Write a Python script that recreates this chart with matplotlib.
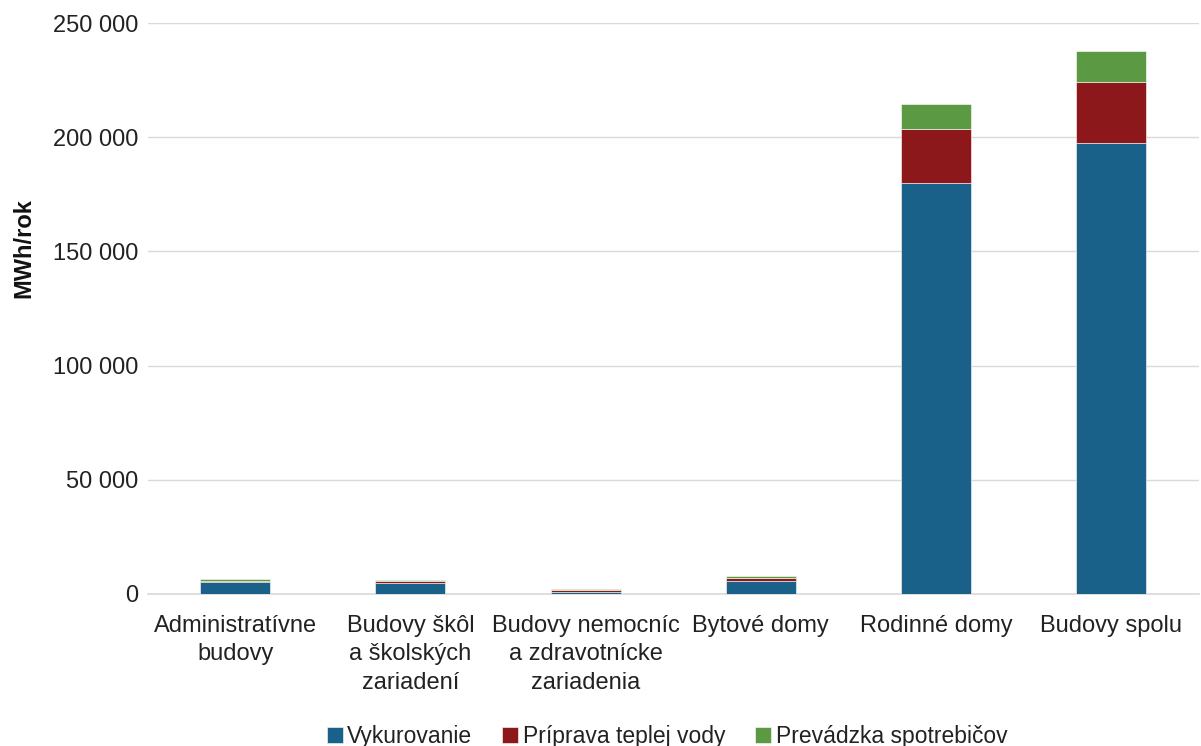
import numpy as np
import matplotlib.pyplot as plt
from matplotlib.ticker import FuncFormatter

categories = ['Administratívne\nbudovy', 'Budovy škôl\na školských\nzariadení',
              'Budovy nemocníc\na zdravotnícke\nzariadenia', 'Bytové domy',
              'Rodinné domy', 'Budovy spolu']
vykurovanie = [5000, 4900, 1000, 5500, 180000, 197500]
priprava_vody = [600, 700, 700, 1500, 23500, 26900]
spotrebice = [1000, 600, 300, 900, 11000, 13300]

series = [('Vykurovanie', vykurovanie, '#1a6189'),
          ('Príprava teplej vody', priprava_vody, '#8c181b'),
          ('Prevádzka spotrebičov', spotrebice, '#5b9a43')]

plt.rcParams['font.family'] = ['Liberation Sans', 'DejaVu Sans']

fig = plt.figure(figsize=(12.01, 7.46), dpi=100)
ax = fig.add_axes([0.123, 0.204, 0.875, 0.765])

x = np.arange(len(categories))
bottom = np.zeros(len(categories))
for name, vals, col in series:
    ax.bar(x, vals, 0.4, bottom=bottom, color=col, label=name,
           edgecolor='white', linewidth=0.4, zorder=3)
    bottom += np.array(vals)

ax.set_xlim(-0.5, len(categories) - 0.5)
ax.set_ylim(0, 250000)
ax.set_yticks(np.arange(0, 250001, 50000))
ax.yaxis.set_major_formatter(FuncFormatter(lambda v, p: f'{int(v):,}'.replace(',', ' ')))
ax.set_xticks(x)
ax.set_xticklabels(categories, fontsize=17, color='#222222', linespacing=1.4)
ax.tick_params(axis='y', labelsize=17, colors='#222222', length=0, pad=7)
ax.tick_params(axis='x', length=0, pad=15)
ax.grid(axis='y', color='#d9d9d9', linewidth=1, zorder=0)
for s in ['top', 'right', 'left']:
    ax.spines[s].set_visible(False)
ax.spines['bottom'].set_color('#d9d9d9')
ax.spines['bottom'].set_linewidth(1.2)
ax.set_ylabel('MWh/rok', fontsize=17, fontweight='bold', color='#111111')
ax.yaxis.set_label_coords(-0.107, 0.606)

ax.legend(loc='center', bbox_to_anchor=(0.494, -0.25), ncol=3, frameon=False,
          fontsize=16.5, handlelength=0.7, handleheight=0.7, handletextpad=0.2,
          columnspacing=1.3, labelcolor='#222222')

plt.savefig('out.png', dpi=100)
